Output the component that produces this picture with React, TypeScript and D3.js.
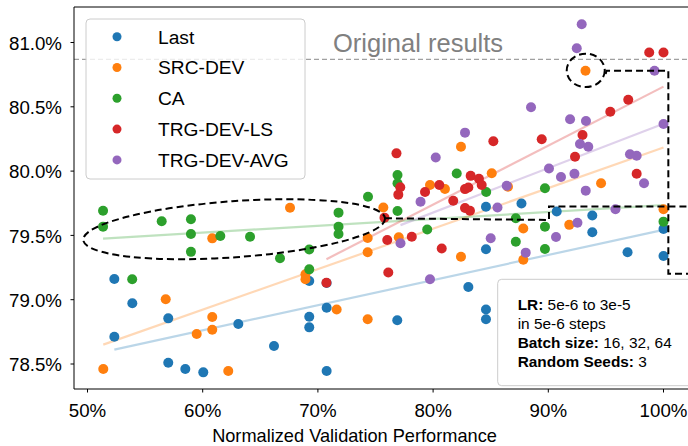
import React from "react";
import * as d3 from "d3";

type Pt = [number, number];

// Normalized validation performance (%) vs. test accuracy (%) per selection strategy
const last: Pt[] = [
  [52.33, 79.161], [52.33, 78.712], [53.89, 78.972], [57.01, 78.855], [57.01, 78.51],
  [58.49, 78.461], [60.05, 78.435], [63.09, 78.811], [66.19, 78.64], [69.25, 79.145],
  [69.25, 78.868], [69.25, 78.785], [70.76, 79.13], [70.76, 78.938], [70.76, 78.446],
  [76.89, 78.84], [83.06, 79.099], [84.59, 78.924], [84.59, 78.848], [84.59, 79.392],
  [84.59, 79.723], [87.67, 79.748], [90.73, 79.686], [93.82, 79.655], [93.82, 79.524],
  [96.88, 79.369], [100, 79.55], [100, 79.34],
];
const srcDev: Pt[] = [
  [51.37, 78.461], [56.79, 79.003], [59.48, 78.733], [60.83, 78.865], [60.83, 78.767],
  [62.22, 78.446], [60.83, 79.477], [67.58, 79.715], [68.92, 79.198], [68.92, 79.159],
  [71.63, 78.924], [75.68, 79.717], [74.32, 79.48], [74.32, 79.369], [74.32, 78.848],
  [77.02, 79.486], [79.73, 79.892], [81.03, 79.861], [82.42, 80.19], [85.09, 79.983],
  [86.5, 79.879], [82.42, 79.334], [87.83, 79.554], [87.83, 79.311], [91.82, 79.582],
  [93.23, 80.781], [94.58, 79.905], [100, 79.703],
];
const ca: Pt[] = [
  [51.35, 79.692], [51.35, 79.568], [53.88, 79.159], [56.44, 79.61], [58.98, 79.625],
  [58.98, 79.511], [58.98, 79.372], [61.53, 79.495], [64.11, 79.49], [66.71, 79.322],
  [69.25, 79.39], [69.25, 79.236], [71.79, 79.677], [71.79, 79.568], [71.79, 79.511],
  [74.35, 79.801], [76.91, 79.97], [76.91, 79.905], [76.91, 79.69], [79.49, 79.546],
  [82.05, 79.981], [84.61, 79.837], [87.18, 79.633], [87.18, 79.451], [89.71, 79.866],
  [89.71, 79.568], [89.71, 79.394], [100, 79.607],
];
const trgDevLs: Pt[] = [
  [70.74, 79.132], [75.78, 79.638], [76.02, 79.464], [76.11, 79.212], [76.82, 80.138],
  [77.15, 79.874], [76.98, 79.817], [78.15, 79.49], [79.3, 79.837], [80.54, 79.892],
  [80.75, 79.398], [81.75, 79.769], [82.77, 79.713], [83.2, 79.692], [83.26, 79.963],
  [82.77, 79.86], [83.06, 79.872], [83.98, 79.941], [84.22, 79.892], [85.23, 80.232],
  [89.43, 80.248], [92.97, 80.281], [92.32, 80.112], [95.38, 80.462], [96.94, 80.555],
  [97.67, 79.98], [98.76, 80.922], [100, 80.922],
];
const trgDevAvg: Pt[] = [
  [77.17, 79.439], [78.91, 79.761], [79.73, 79.159], [80.23, 80.106], [82.77, 80.299],
  [85.0, 79.478], [85.59, 79.717], [86.39, 79.886], [88.04, 79.366], [88.5, 80.496],
  [90.06, 80.02], [90.67, 79.488], [91.1, 79.954], [91.89, 80.403], [92.27, 79.98],
  [92.53, 79.599], [92.75, 80.211], [93.27, 80.39], [93.47, 80.19], [93.25, 79.848],
  [92.47, 80.955], [92.9, 81.142], [95.83, 79.703], [97.09, 80.131], [97.67, 80.12],
  [98.31, 79.905], [99.22, 80.781], [100, 80.366],
];

const seriesNames = ["Last", "SRC-DEV", "CA", "TRG-DEV-LS", "TRG-DEV-AVG"];
const seriesColors = ["#1f77b4", "#ff7f0e", "#2ca02c", "#d62728", "#9467bd"];
const seriesData = [last, srcDev, ca, trgDevLs, trgDevAvg];

const xTicks = [50, 60, 70, 80, 90, 100];
const yTicks = [78.5, 79.0, 79.5, 80.0, 80.5, 81.0];

const originalResult = 80.869;

// Highlight shapes (data coordinates)
const clusterEllipse = { cx: 62.73, cy: 79.548, rx: 13.13, ry: 0.218, angle: -4.1 };
const outlierCircle = { cx: 93.25, cy: 80.783, rx: 1.65, ry: 0.13 };
const outlierLink: Pt[] = [[94.98, 80.755], [95.05, 80.781], [100.42, 80.781], [100.42, 79.202], [106, 79.202]];
const clusterLink: Pt[] = [[75.82, 79.633], [90.06, 79.62], [90.06, 79.725], [106, 79.725]];

const W = 688;
const H = 446;
const FONT = "'Liberation Sans', Arial, sans-serif";

const x = d3.scaleLinear().domain([50, 100]).range([87.5, 663.5]);
const y = d3.scaleLinear().domain([78.5, 81]).range([364, 42.5]);
const plotLeft = 74;
const plotTop = 7;
const plotBottom = 389;
const plotRight = 740;

function fit(pts: Pt[]) {
  const mx = d3.mean(pts, (p) => p[0])!;
  const my = d3.mean(pts, (p) => p[1])!;
  const sxy = d3.sum(pts, (p) => (p[0] - mx) * (p[1] - my));
  const sxx = d3.sum(pts, (p) => (p[0] - mx) ** 2);
  const b = sxy / sxx;
  const a = my - b * mx;
  const [x0, x1] = d3.extent(pts, (p) => p[0]) as [number, number];
  return [[x0, a + b * x0], [x1, a + b * x1]] as Pt[];
}

const line = d3.line<Pt>().x((d) => x(d[0])).y((d) => y(d[1]));

export default function App() {
  const ec = { x: x(clusterEllipse.cx), y: y(clusterEllipse.cy) };
  const erx = x(clusterEllipse.cx + clusterEllipse.rx) - x(clusterEllipse.cx);
  const ery = y(clusterEllipse.cy) - y(clusterEllipse.cy + clusterEllipse.ry);
  const cc = { x: x(outlierCircle.cx), y: y(outlierCircle.cy) };
  const crx = x(outlierCircle.cx + outlierCircle.rx) - x(outlierCircle.cx);
  const cry = y(outlierCircle.cy) - y(outlierCircle.cy + outlierCircle.ry);

  return (
    <svg
      width={W}
      height={H}
      style={{ position: "absolute", left: 0, top: 0, overflow: "hidden", background: "#fff" }}
      fontFamily={FONT}
    >
      <rect x={0} y={0} width={W} height={H} fill="#fff" />

      {/* reference accuracy */}
      <line
        x1={plotLeft}
        x2={plotRight}
        y1={y(originalResult)}
        y2={y(originalResult)}
        stroke="#a0a0a0"
        strokeWidth={1.4}
        strokeDasharray="5,3"
      />
      <text x={333} y={y(originalResult) - 7.5} fontSize={25.5} fill="#808080">
        Original results
      </text>

      {/* regression lines */}
      {seriesData.map((pts, i) => (
        <path
          key={"fit" + i}
          d={line(fit(pts)) || ""}
          stroke={seriesColors[i]}
          strokeOpacity={0.3}
          strokeWidth={2.2}
          fill="none"
        />
      ))}

      {/* points */}
      {seriesData.map((pts, i) => (
        <g key={"pts" + i} fill={seriesColors[i]}>
          {pts.map((p, j) => (
            <circle key={j} cx={x(p[0])} cy={y(p[1])} r={5} />
          ))}
        </g>
      ))}

      {/* highlight shapes */}
      <g fill="none" stroke="#000" strokeWidth={2} strokeDasharray="7,4">
        <ellipse
          cx={ec.x}
          cy={ec.y}
          rx={erx}
          ry={ery}
          transform={`rotate(${clusterEllipse.angle} ${ec.x} ${ec.y})`}
        />
        <ellipse cx={cc.x} cy={cc.y} rx={crx} ry={cry} />
        <path d={line(outlierLink) || ""} />
        <path d={line(clusterLink) || ""} />
      </g>

      {/* axes frame */}
      <g stroke="#000" strokeWidth={1}>
        <line x1={plotLeft} x2={plotLeft} y1={plotTop} y2={plotBottom} />
        <line x1={plotLeft} x2={plotRight} y1={plotBottom} y2={plotBottom} />
        <line x1={plotLeft} x2={plotRight} y1={plotTop} y2={plotTop} />
        {xTicks.map((t) => (
          <line key={"xt" + t} x1={x(t)} x2={x(t)} y1={plotBottom} y2={plotBottom + 3.5} />
        ))}
        {yTicks.map((t) => (
          <line key={"yt" + t} x1={plotLeft - 3.5} x2={plotLeft} y1={y(t)} y2={y(t)} />
        ))}
      </g>
      <g fontSize={18.7} fill="#000">
        {xTicks.map((t) => (
          <text key={"xl" + t} x={x(t)} y={416.5} textAnchor="middle">
            {`${t}%`}
          </text>
        ))}
        {yTicks.map((t) => (
          <text key={"yl" + t} x={62} y={y(t) + 7.3} textAnchor="end">
            {`${t.toFixed(1)}%`}
          </text>
        ))}
      </g>
      <text x={354.5} y={442} textAnchor="middle" fontSize={18.2} fill="#000">
        Normalized Validation Performance
      </text>

      {/* legend */}
      <rect x={86} y={19} width={219} height={160} rx={4} fill="#fff" fillOpacity={0.8} stroke="#cccccc" strokeWidth={1} />
      {seriesNames.map((name, i) => {
        const ly = 36.7 + i * 30.8;
        return (
          <g key={name}>
            <circle cx={117} cy={ly} r={4.5} fill={seriesColors[i]} />
            <text x={158} y={ly + 6.8} fontSize={19.2} fill="#000">
              {name}
            </text>
          </g>
        );
      })}

      {/* settings note */}
      <rect x={497.7} y={279.3} width={240} height={106.4} rx={4} fill="#fff" fillOpacity={0.8} stroke="#cccccc" strokeWidth={1} />
      <g fontSize={15.4} fill="#000">
        <text x={517.7} y={310}>
          <tspan fontWeight="bold">LR:</tspan> 5e-6 to 3e-5
        </text>
        <text x={517.7} y={329}>in 5e-6 steps</text>
        <text x={517.7} y={348.3}>
          <tspan fontWeight="bold">Batch size:</tspan> 16, 32, 64
        </text>
        <text x={517.7} y={367.3}>
          <tspan fontWeight="bold">Random Seeds:</tspan> 3
        </text>
      </g>
    </svg>
  );
}
